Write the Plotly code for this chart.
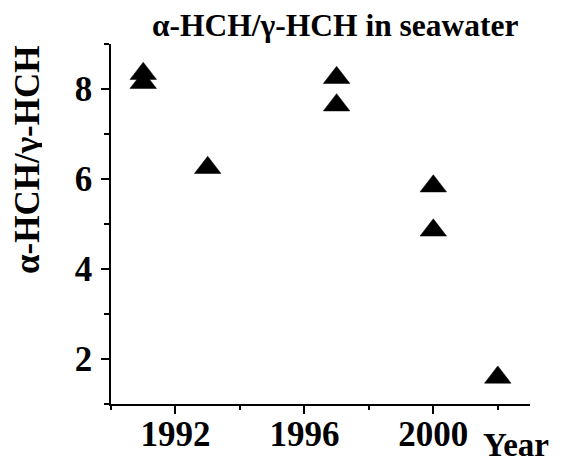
import plotly.graph_objects as go

years = [1991, 1991, 1993, 1997, 1997, 2000, 2000, 2002]
ratio = [8.34, 8.14, 6.25, 8.25, 7.64, 5.84, 4.86, 1.59]

FONT = "Liberation Serif, Times New Roman, serif"

fig = go.Figure()
fig.add_trace(go.Scatter(
    x=years, y=ratio, mode="markers",
    marker=dict(symbol="triangle-up", size=23, color="black",
                line=dict(color="black", width=0.5)),
    showlegend=False, cliponaxis=False,
))

# the page body has an 8px margin, so figure coords = screen coords - 8
OFF = 8
W, H = 573 - OFF, 462 - OFF
L, T = 111 - OFF, 44 - OFF
pw, ph = 419, 360
R = W - L - pw
B = H - T - ph


def px(xs):
    return (xs - OFF - L) / pw


def py(ys):
    return 1 - (ys - OFF - T) / ph


fig.update_layout(
    template="none",
    width=W, height=H,
    margin=dict(l=L, r=R, t=T, b=B, autoexpand=False),
    paper_bgcolor="white", plot_bgcolor="white",
    font=dict(family=FONT, color="black"),
    xaxis=dict(
        range=[1990, 2003], tick0=1992, dtick=4, automargin=False,
        showgrid=False, zeroline=False,
        showline=True, linecolor="black", linewidth=1.5,
        ticks="outside", ticklen=8, tickwidth=1.5, tickcolor="black",
        tickfont=dict(family=FONT, size=35, weight="bold", color="black"),
        ticklabelstandoff=-10,
        minor=dict(dtick=2, tick0=1990, ticks="outside", ticklen=4,
                   tickwidth=1.5, tickcolor="black", showgrid=False),
    ),
    yaxis=dict(
        range=[1, 9], tick0=0, dtick=2, automargin=False,
        showgrid=False, zeroline=False,
        showline=True, linecolor="black", linewidth=1.5,
        ticks="outside", ticklen=8, tickwidth=1.5, tickcolor="black",
        tickfont=dict(family=FONT, size=35, weight="bold", color="black"),
        ticklabelstandoff=2,
        minor=dict(dtick=1, tick0=1, ticks="outside", ticklen=5,
                   tickwidth=1.5, tickcolor="black", showgrid=False),
    ),
    annotations=[
        dict(text="<b>α-HCH/γ-HCH in seawater</b>", xref="paper", yref="paper",
             x=px(335), y=py(45), xanchor="center", yanchor="bottom",
             showarrow=False, font=dict(family=FONT, size=31.5, color="black")),
        dict(text="<b>α-HCH/γ-HCH</b>", xref="paper", yref="paper",
             x=px(27), y=py(160), xanchor="center", yanchor="middle",
             textangle=-90, showarrow=False, height=30, borderpad=0,
             font=dict(family=FONT, size=35, color="black")),
        dict(text="<b>Year</b>", xref="paper", yref="paper",
             x=px(516), y=py(445), xanchor="center", yanchor="middle",
             showarrow=False, height=28, borderpad=0,
             font=dict(family=FONT, size=33, color="black")),
    ],
)

fig.write_html("out.html")
